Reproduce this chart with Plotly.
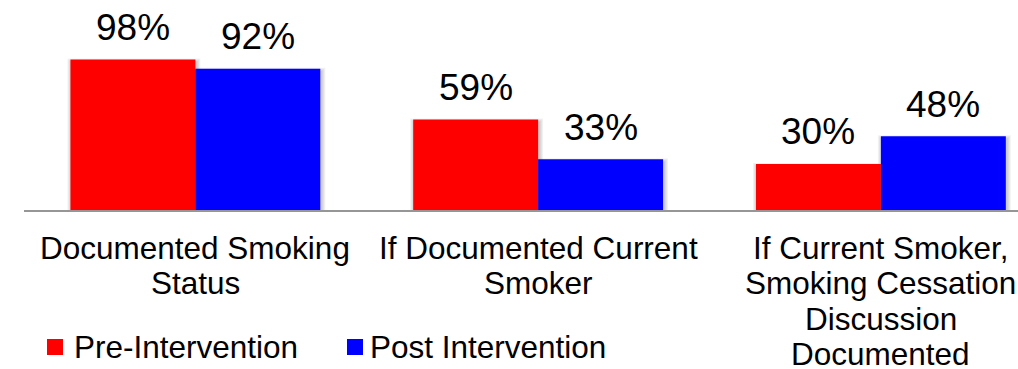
import plotly.graph_objects as go

# Chart data
category_lines = [
    ["Documented Smoking", "Status"],
    ["If Documented Current", "Smoker"],
    ["If Current Smoker,", "Smoking Cessation", "Discussion", "Documented"],
]
categories = [" ".join(lines) for lines in category_lines]
series_names = ["Pre-Intervention", "Post Intervention"]
pre_values = [98, 59, 30]
post_values = [92, 33, 48]
series_colors = ["#ff0000", "#0000ff"]

W, H = 1018, 369
M_L, M_R, M_T, M_B = 24, 0, 0, 159
PLOT_H = H - M_T - M_B
PLOT_W = W - M_L - M_R
X_RANGE = [-0.5, 2.4]
PX_PER_UNIT = 1.536          # vertical pixels per percentage point
BARGAP = 0.271
FONT = "Arial, Liberation Sans, sans-serif"

fig = go.Figure()
for name, vals, col in zip(series_names, [pre_values, post_values], series_colors):
    fig.add_trace(go.Bar(
        x=categories, y=vals, name=name,
        marker=dict(color=col, line=dict(width=0)),
        showlegend=False, hoverinfo="x+y",
    ))

bar_w = (1 - BARGAP) / 2                      # one bar, in category units
bar_half = bar_w / 2
bar_half_px = bar_half * PLOT_W / (X_RANGE[1] - X_RANGE[0])

for vals, side in [(pre_values, -1), (post_values, 1)]:
    for i, v in enumerate(vals):
        xc = i + side * bar_half
        # soft drop shadow behind the bar
        for k in range(1, 5):
            fig.add_shape(
                type="rect", layer="below", xref="x", yref="y",
                xsizemode="pixel", ysizemode="pixel",
                xanchor=xc, yanchor=v,
                x0=-bar_half_px + 1 - k, x1=bar_half_px + 1 + k,
                y0=-(v * PX_PER_UNIT + 3 + k), y1=-(3 - k),
                fillcolor="rgba(0,0,0,0.05)", line=dict(width=0),
            )
        # value label above the bar
        fig.add_annotation(
            x=xc, y=v, xref="x", yref="y",
            text=f"{v}%", showarrow=False,
            xanchor="center", yanchor="middle", yshift=32,
            font=dict(family=FONT, size=37, color="#000000"),
        )

# multi-line category labels under the axis
LINE_STEP = 35.3
FIRST_LINE_Y = 248            # pixel row of first label line
for i, lines in enumerate(category_lines):
    for k, line in enumerate(lines):
        py = FIRST_LINE_Y + k * LINE_STEP
        fig.add_annotation(
            x=i, y=0, xref="x", yref="paper",
            text=line, showarrow=False,
            xanchor="center", yanchor="middle",
            yshift=-(py - (M_T + PLOT_H)),
            font=dict(family=FONT, size=31.5, color="#000000"),
        )

# legend drawn as swatches + text
def px_to_paper_x(px):
    return (px - M_L) / PLOT_W

def px_to_paper_y(py):
    return (M_T + PLOT_H - py) / PLOT_H

legend_items = [(47, 72), (347, 368)]
for (sx, tx), name, col in zip(legend_items, series_names, series_colors):
    fig.add_shape(
        type="rect", xref="paper", yref="paper",
        x0=px_to_paper_x(sx), x1=px_to_paper_x(sx + 16),
        y0=px_to_paper_y(339), y1=px_to_paper_y(355),
        fillcolor=col, line=dict(width=0),
    )
    fig.add_annotation(
        x=px_to_paper_x(tx), y=px_to_paper_y(347), xref="paper", yref="paper",
        text=name, showarrow=False, xanchor="left", yanchor="middle",
        font=dict(family=FONT, size=31.5, color="#000000"),
    )

fig.update_layout(
    width=W, height=H,
    margin=dict(l=M_L, r=M_R, t=M_T, b=M_B, pad=0),
    paper_bgcolor="#ffffff", plot_bgcolor="#ffffff",
    barmode="group", bargap=BARGAP, bargroupgap=0,
    showlegend=False,
    xaxis=dict(
        type="category", range=X_RANGE,
        showticklabels=False, ticks="", showgrid=False, zeroline=False,
        showline=True, linecolor="#969696", linewidth=2,
    ),
    yaxis=dict(
        range=[0, PLOT_H / PX_PER_UNIT],
        visible=False, showgrid=False, zeroline=False,
    ),
)

fig.write_html("out.html")
